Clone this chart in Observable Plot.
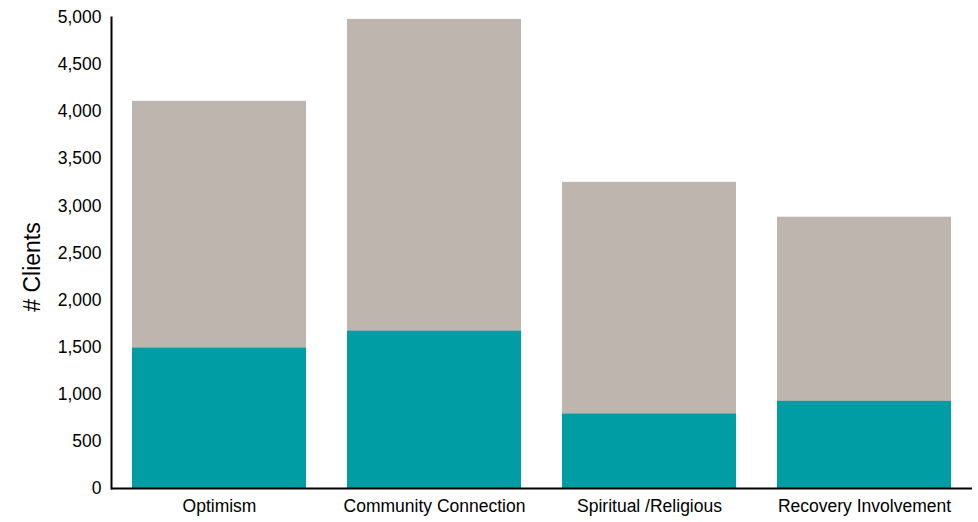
<!DOCTYPE html>
<html>
<head>
<meta charset="utf-8">
<script src="https://cdn.jsdelivr.net/npm/d3@7"></script>
<script src="https://cdn.jsdelivr.net/npm/@observablehq/plot@0.6"></script>
<style>
  html, body { margin: 0; padding: 0; background: #fff; }
  svg { display: block; }
</style>
</head>
<body>
<div id="chart"></div>
<script>
const categories = ["Optimism", "Community Connection", "Spiritual /Religious", "Recovery Involvement"];
const totalValues = [4110, 4980, 3250, 2880];
const subsetValues = [1490, 1670, 790, 925];
const yTicks = [0, 500, 1000, 1500, 2000, 2500, 3000, 3500, 4000, 4500, 5000];

const data = categories.map((c, i) => ({category: c, total: totalValues[i], subset: subsetValues[i]}));

const chart = Plot.plot({
  width: 978,
  height: 522,
  marginLeft: 111,
  marginRight: 6,
  marginTop: 17,
  marginBottom: 34,
  style: {fontFamily: "'Liberation Sans', Arial, sans-serif", fontSize: "17.5px", color: "#000", background: "#fff"},
  x: {domain: categories, paddingInner: 0.19, paddingOuter: 0.095, label: null, tickSize: 0, tickPadding: 11},
  y: {domain: [0, 5000], ticks: yTicks, tickFormat: d3.format(","), label: null, tickSize: 0, tickPadding: 10},
  marks: [
    Plot.barY(data, {x: "category", y: "total", fill: "#BEB5AF"}),
    Plot.barY(data, {x: "category", y: "subset", fill: "#009DA5"}),
    Plot.ruleY([0], {stroke: "#000", strokeWidth: 2}),
    Plot.frame({anchor: "left", stroke: "#000", strokeWidth: 2}),
    Plot.text(["# Clients"], {frameAnchor: "left", textAnchor: "middle", dx: -79, dy: 14, rotate: -90, text: d => d, fontSize: 23, fill: "#000"})
  ]
});
document.getElementById("chart").appendChild(chart);
</script>
</body>
</html>
